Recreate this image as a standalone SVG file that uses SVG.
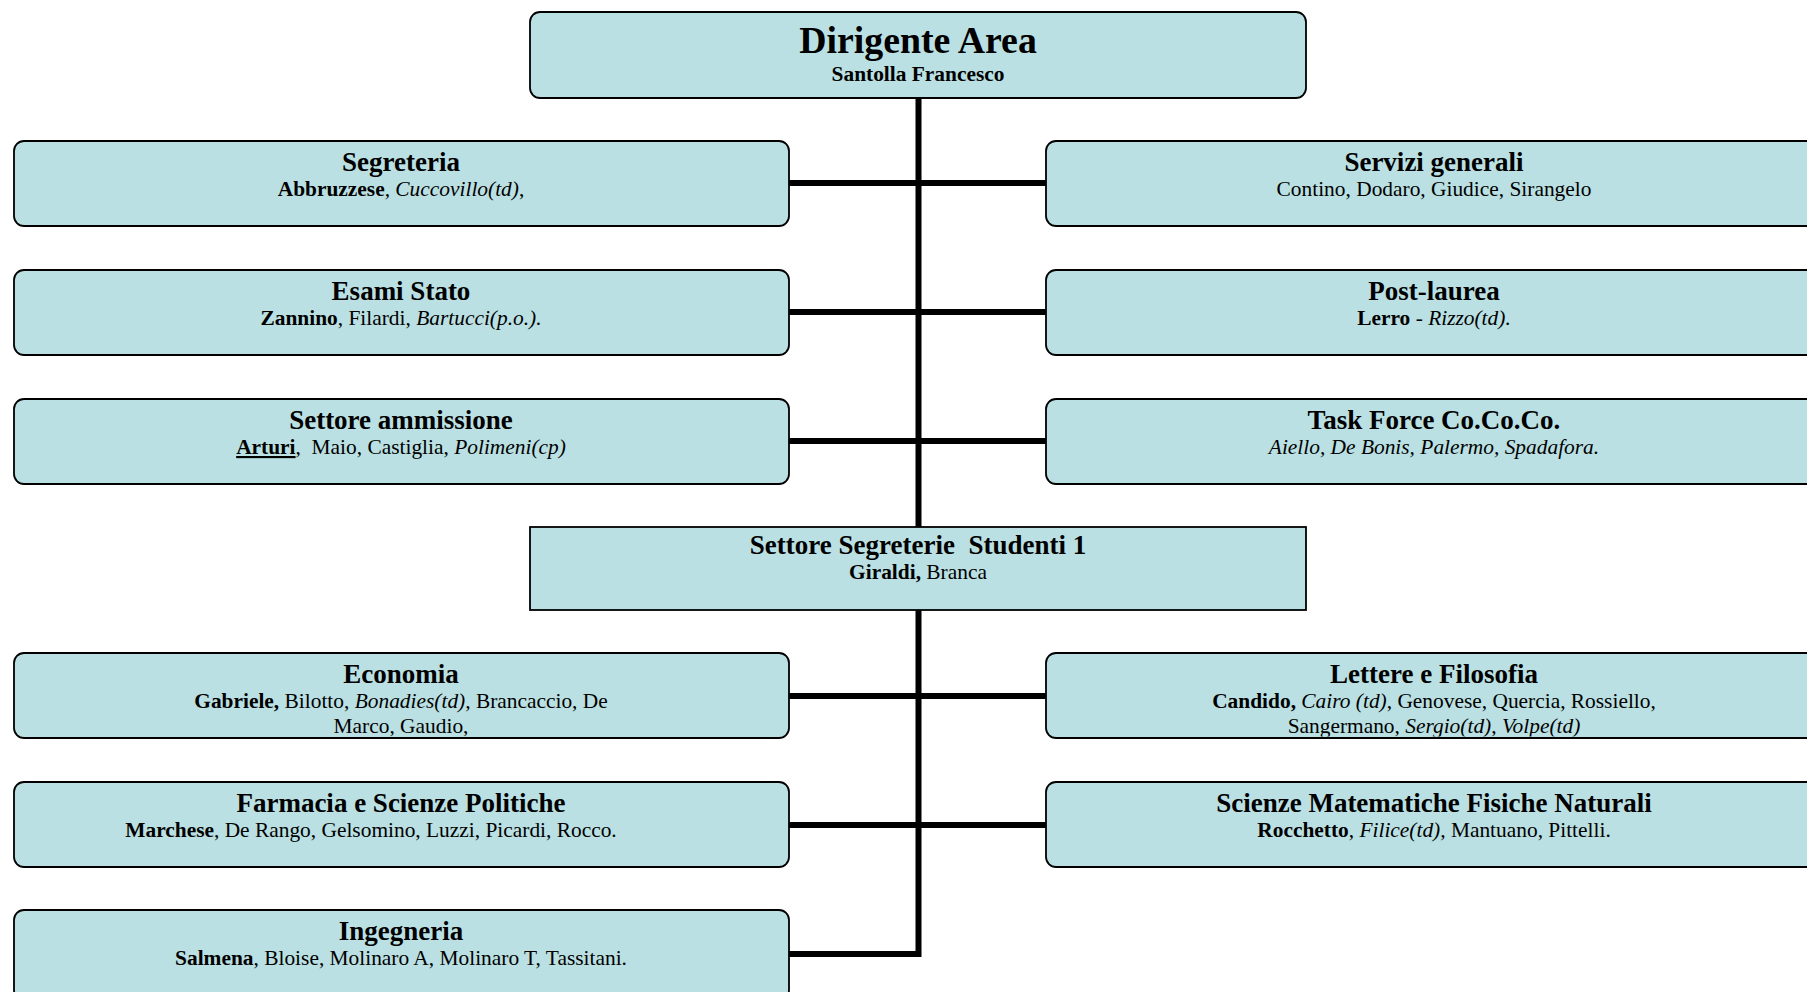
<svg xmlns="http://www.w3.org/2000/svg" width="1807" height="992" viewBox="0 0 1807 992">
<style>
.box{fill:#BAE0E3;stroke:#000;stroke-width:1.8}
.t{font-family:"Liberation Serif","Times New Roman",serif;text-anchor:middle;fill:#000}
.h0{font-size:37.8px;font-weight:bold}
.h{font-size:27px;font-weight:bold}
.s{font-size:21.4px}
.b{font-weight:bold}
.i{font-style:italic}
.u{text-decoration:underline}
.ln{stroke:#000;stroke-width:6;fill:none}
</style>
<defs>
<clipPath id="cEco"><rect x="14" y="653" width="775" height="83.5"/></clipPath>
<clipPath id="cLet"><rect x="1046" y="653" width="775" height="83.5"/></clipPath>
</defs>
<rect width="1807" height="992" fill="#fff"/>
<g id="connectors">
<path class="ln" d="M918.5 98V527M918.5 610V954H789"/>
<path class="ln" d="M789 183H1046M789 312H1046M789 441H1046M789 696H1046M789 825H1046"/>
</g>
<g id="dirigente">
<rect class="box" x="530" y="12" width="776" height="86" rx="10"/>
<text class="t h0" x="918" y="53">Dirigente Area</text>
<text class="t s b" x="918" y="81">Santolla Francesco</text>
</g>
<g id="segreteria">
<rect class="box" x="14" y="141" width="775" height="85" rx="10"/>
<text class="t h" x="401" y="171">Segreteria</text>
<text class="t s" x="401" y="196"><tspan class="b">Abbruzzese</tspan><tspan class="i">, Cuccovillo(td)</tspan>,</text>
</g>
<g id="servizi">
<rect class="box" x="1046" y="141" width="775" height="85" rx="10"/>
<text class="t h" x="1434" y="171">Servizi generali</text>
<text class="t s" x="1434" y="196">Contino, Dodaro, Giudice, Sirangelo</text>
</g>
<g id="esami">
<rect class="box" x="14" y="270" width="775" height="85" rx="10"/>
<text class="t h" x="401" y="300">Esami Stato</text>
<text class="t s" x="401" y="325"><tspan class="b">Zannino</tspan>, Filardi, <tspan class="i">Bartucci(p.o.).</tspan></text>
</g>
<g id="postlaurea">
<rect class="box" x="1046" y="270" width="775" height="85" rx="10"/>
<text class="t h" x="1434" y="300">Post-laurea</text>
<text class="t s" x="1434" y="325"><tspan class="b">Lerro</tspan> - <tspan class="i">Rizzo(td).</tspan></text>
</g>
<g id="ammissione">
<rect class="box" x="14" y="399" width="775" height="85" rx="10"/>
<text class="t h" x="401" y="429">Settore ammissione</text>
<text class="t s" x="401" y="454" xml:space="preserve"><tspan class="b u">Arturi</tspan>,  Maio, Castiglia, <tspan class="i">Polimeni(cp)</tspan></text>
</g>
<g id="taskforce">
<rect class="box" x="1046" y="399" width="775" height="85" rx="10"/>
<text class="t h" x="1434" y="429">Task Force Co.Co.Co.</text>
<text class="t s i" x="1434" y="454">Aiello, De Bonis, Palermo, Spadafora.</text>
</g>
<g id="studenti">
<rect class="box" x="530" y="527" width="776" height="83"/>
<text class="t h" x="918" y="554" xml:space="preserve">Settore Segreterie  Studenti 1</text>
<text class="t s" x="918" y="579"><tspan class="b">Giraldi,</tspan> Branca</text>
</g>
<g id="economia">
<rect class="box" x="14" y="653" width="775" height="85" rx="10"/>
<text class="t h" x="401" y="683">Economia</text>
<g clip-path="url(#cEco)">
<text class="t s" x="401" y="708"><tspan class="b">Gabriele,</tspan> Bilotto, <tspan class="i">Bonadies(td),</tspan> Brancaccio, De</text>
<text class="t s" x="401" y="733">Marco, Gaudio,</text>
</g>
</g>
<g id="lettere">
<rect class="box" x="1046" y="653" width="775" height="85" rx="10"/>
<text class="t h" x="1434" y="683">Lettere e Filosofia</text>
<g clip-path="url(#cLet)">
<text class="t s" x="1434" y="708"><tspan class="b">Candido,</tspan> <tspan class="i">Cairo (td)</tspan>, Genovese, Quercia, Rossiello,</text>
<text class="t s" x="1434" y="733">Sangermano, <tspan class="i">Sergio(td)</tspan>, <tspan class="i">Volpe(td)</tspan></text>
</g>
</g>
<g id="farmacia">
<rect class="box" x="14" y="782" width="775" height="85" rx="10"/>
<text class="t h" x="401" y="812">Farmacia e Scienze Politiche</text>
<text class="t s" x="371" y="837"><tspan class="b">Marchese</tspan>, De Rango, Gelsomino, Luzzi, Picardi, Rocco.</text>
</g>
<g id="smfn">
<rect class="box" x="1046" y="782" width="775" height="85" rx="10"/>
<text class="t h" x="1434" y="812">Scienze Matematiche Fisiche Naturali</text>
<text class="t s" x="1434" y="837"><tspan class="b">Rocchetto</tspan>, <tspan class="i">Filice(td),</tspan> Mantuano, Pittelli.</text>
</g>
<g id="ingegneria">
<rect class="box" x="14" y="910" width="775" height="90" rx="10"/>
<text class="t h" x="401" y="940">Ingegneria</text>
<text class="t s" x="401" y="965"><tspan class="b">Salmena</tspan>, Bloise, Molinaro A, Molinaro T, Tassitani.</text>
</g>
</svg>
